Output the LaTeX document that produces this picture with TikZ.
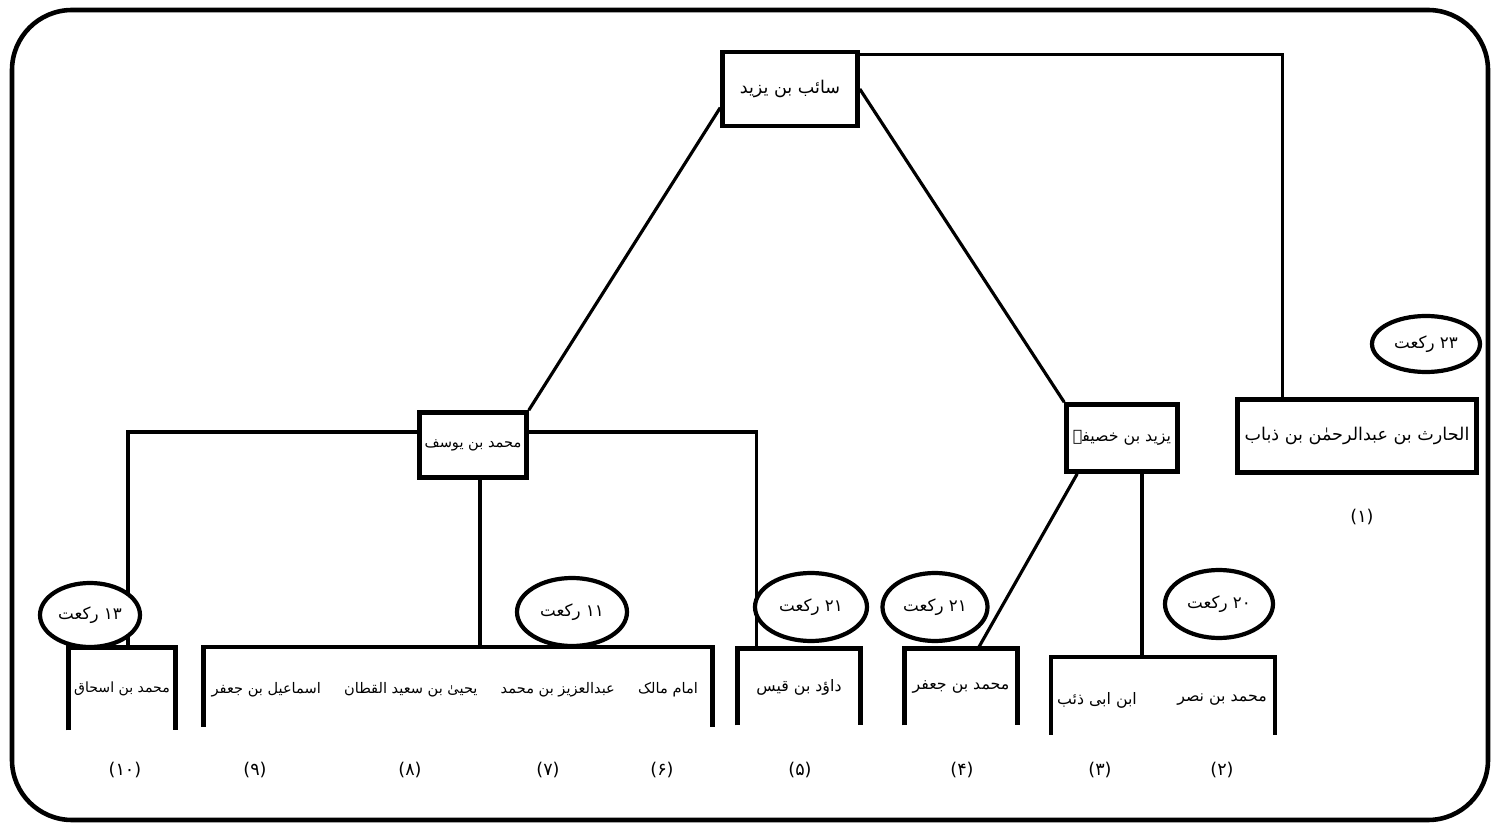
\documentclass[tikz,border=0pt]{standalone}
\usepackage{fontspec}
\usetikzlibrary{shapes.geometric,calc,positioning}
\TeXXeTstate=1
\newfontfamily\urdufont[Script=Arabic]{DejaVu Sans}
\newcommand{\urd}[1]{\beginR #1\endR}
\tikzset{
  namebox/.style={draw, line width=2.6pt, inner sep=0pt, font=\fontsize{9}{11}\urdufont},
  openbox/.style={inner sep=0pt, font=\fontsize{9}{11}\urdufont},
  rakat/.style={ellipse, draw, fill=white, line width=2.4pt, inner sep=0pt, font=\fontsize{9.5}{11}\urdufont},
  link/.style={line width=1.8pt},
  lbl/.style={inner sep=1pt, font=\fontsize{8.3}{10}\urdufont},
  numlbl/.style={inner sep=1pt, font=\fontsize{10}{12}\urdufont},
}
\begin{document}
\begin{tikzpicture}[x=0.2mm, y=-0.2mm]
        \useasboundingbox (0,0) rectangle (1498,827);
        \draw[line width=2.6pt, rounded corners=12mm] (12,10) rectangle (1488,820);

        \node[namebox, font=\fontsize{10}{12}\urdufont, minimum width=27mm, minimum height=14.8mm] (saib) at (790,89) {\urd{سائب بن یزید}};
        \node[namebox, font=\fontsize{8.3}{10}\urdufont, minimum width=21.4mm, minimum height=13mm] (yusuf) at (473,445) {\urd{محمد بن یوسف}};
        \node[namebox, minimum width=22.2mm, minimum height=13.4mm] (khusayfa) at (1122,438) {\urd{یزید بن خصیفہ}};
        \node[namebox, font=\fontsize{10}{12}\urdufont, minimum width=47.8mm, minimum height=14.6mm] (harith) at (1357,436) {\urd{الحارث بن عبدالرحمٰن بن ذباب}};

        \node[openbox, font=\fontsize{8}{10}\urdufont, minimum width=21.2mm, minimum height=16.4mm] (ishaq) at (122,689) {\urd{محمد بن اسحاق}};
        \node[openbox, minimum width=101.6mm, minimum height=15.8mm] (malik) at (458,687) {};
        \node[openbox, minimum width=24.4mm, minimum height=15.2mm] (dawud) at (799,687) {\urd{داؤد بن قیس}};
        \node[openbox, minimum width=22.4mm, minimum height=15.2mm] (jafar) at (961,687) {\urd{محمد بن جعفر}};
        \node[openbox, minimum width=44.6mm, minimum height=15.4mm] (nasr) at (1163,696) {};
        \foreach \b in {ishaq,malik,dawud,jafar,nasr}
        {
                \draw[line width=2.6pt] (\b.south west) |- (\b.north east) -- (\b.south east);
        }

        \node[lbl, anchor=east] (malik6) at (700,690) {\urd{امام مالک}};
        \node[lbl, left=3.8mm of malik6] (malik7) {\urd{عبدالعزیز بن محمد}};
        \node[lbl, left=3.8mm of malik7] (malik8) {\urd{یحییٰ بن سعید القطان}};
        \node[lbl, left=3.8mm of malik8] (malik9) {\urd{اسماعیل بن جعفر}};
        \node[openbox] (nasr3) at (1097,700) {\urd{ابن ابی ذئب}};
        \node[openbox] (nasr2) at (1222,700) {\urd{محمد بن نصر}};

        \draw[link] (saib.195) -- (yusuf.north east);
        \draw[link] (saib.east) -- (khusayfa.north west);
        \draw[link] ($(saib.north east)+(0,5)$) -| ($(harith.north west)+(47,0)$);
        \draw[link] ($(yusuf.west)+(0,-13)$) -| ($(ishaq.north)+(6,0)$);
        \draw[link] ($(yusuf.east)+(0,-13)$) -| ($(dawud.north west)+(19,0)$);
        \coordinate (yd) at ($(yusuf.south)+(7,0)$);
        \draw[link] (yd) -- (yd |- malik.north);
        \draw[link] ($(khusayfa.south west)+(13,0)$) -- ($(jafar.north)+(17,0)$);
        \coordinate (kd) at ($(khusayfa.south)+(20,0)$);
        \draw[link] (kd) -- (kd |- nasr.north);

        \node[rakat, minimum width=21.6mm, minimum height=11.2mm] (r23) at (1426,344) {\urd{۲۳ رکعت}};
        \node[rakat, minimum width=20mm, minimum height=12.8mm] (r13) at (90,615) {\urd{۱۳ رکعت}};
        \node[rakat, minimum width=22mm, minimum height=13.6mm] (r11) at (572,612) {\urd{۱۱ رکعت}};
        \node[rakat, minimum width=22.4mm, minimum height=13.6mm] (r21a) at (811,607) {\urd{۲۱ رکعت}};
        \node[rakat, minimum width=21mm, minimum height=13.6mm] (r21b) at (935,607) {\urd{۲۱ رکعت}};
        \node[rakat, minimum width=21.6mm, minimum height=13.6mm] (r20) at (1219,604) {\urd{۲۰ رکعت}};

        \node[numlbl] (num1) at (1362,517) {(۱)};
        \foreach \n/\x in {۲/1222,۳/1100,۴/962,۵/800,۶/662,۷/548,۸/410,۹/255,۱۰/125}
        {
                \node[numlbl] (num\x) at (\x,770) {(\n)};
        }
\end{tikzpicture}
\end{document}
